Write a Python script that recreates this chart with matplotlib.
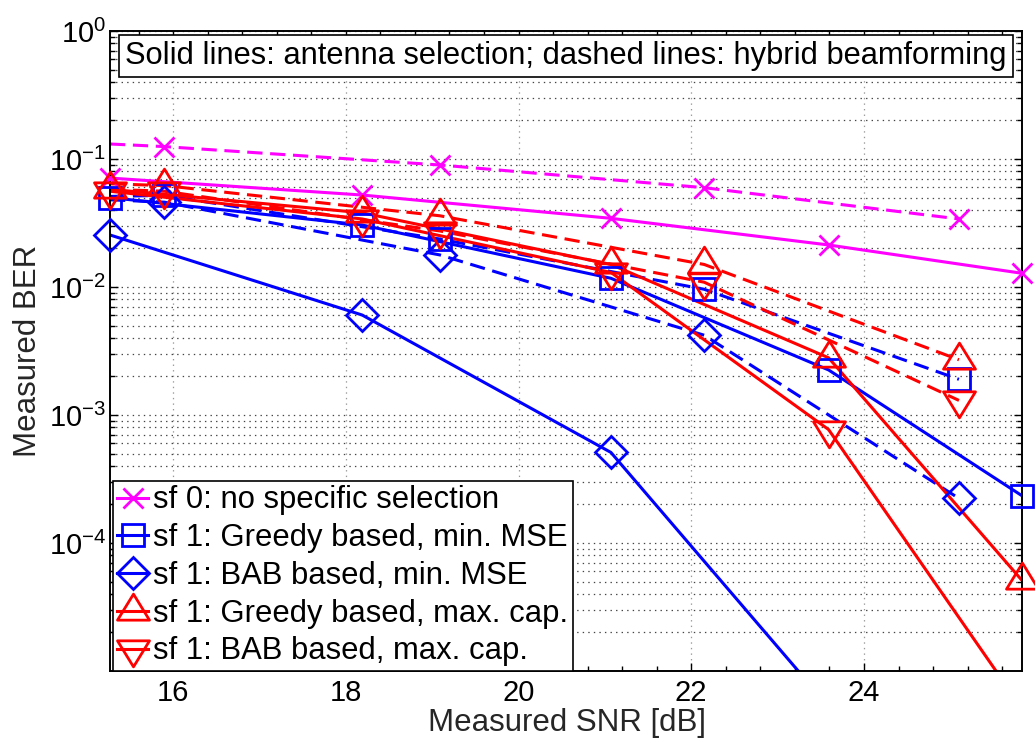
import numpy as np
import matplotlib
matplotlib.use("Agg")
import matplotlib.pyplot as plt
from matplotlib.path import Path
from matplotlib.lines import Line2D
from matplotlib.ticker import FixedLocator, LogLocator, FuncFormatter, NullFormatter, MultipleLocator

plt.rcParams['font.family'] = ['Liberation Sans', 'DejaVu Sans']
plt.rcParams['mathtext.fontset'] = 'custom'
plt.rcParams['mathtext.rm'] = 'Liberation Sans'
plt.rcParams['mathtext.it'] = 'Liberation Sans:italic'
plt.rcParams['mathtext.bf'] = 'Liberation Sans:bold'
plt.rcParams['lines.scale_dashes'] = False

# ---- data -------------------------------------------------------------
# antenna selection (solid lines): measured SNR [dB]
snr_as = np.array([15.27, 18.19, 21.07, 23.59, 25.83])
# hybrid beamforming (dashed lines): first entry is where the curve enters at the left edge
snr_hb = np.array([15.27, 15.90, 19.09, 22.15, 25.10])

ber_sf0_as = [0.071, 0.0523, 0.0344, 0.0213, 0.0128]
ber_gmse_as = [0.050, 0.0305, 0.0117, 0.00225, 2.34e-4]
ber_bmse_as = [0.0255, 0.00604, 5.1e-4, 5.3e-6, np.nan]
ber_gcap_as = [0.058, 0.038, 0.0150, 0.0028, 5.1e-5]
ber_bcap_as = [0.056, 0.034, 0.0130, 7.7e-4, 5.1e-6]

ber_sf0_hb = [0.131, 0.125, 0.0898, 0.0597, 0.034]
ber_gmse_hb = [0.051, 0.052, 0.0237, 0.0096, 0.0019]
ber_bmse_hb = [0.048, 0.046, 0.0178, 0.0042, 2.23e-4]
ber_gcap_hb = [0.064, 0.062, 0.036, 0.0150, 0.0027]
ber_bcap_hb = [0.058, 0.056, 0.0274, 0.0109, 0.0013]

labels = ["sf 0: no specific selection",
          "sf 1: Greedy based, min. MSE",
          "sf 1: BAB based, min. MSE",
          "sf 1: Greedy based, max. cap.",
          "sf 1: BAB based, max. cap."]

MAG, BLU, RED = '#FF00FF', '#0000FF', '#FF0000'

# triangles centred on their centroid, a little wider than tall
tri_up = Path([(0, 0.667), (-0.615, -0.333), (0.615, -0.333), (0, 0.667)],
              [Path.MOVETO, Path.LINETO, Path.LINETO, Path.CLOSEPOLY])
tri_dn = Path([(0, -0.667), (-0.615, 0.333), (0.615, 0.333), (0, -0.667)],
              [Path.MOVETO, Path.LINETO, Path.LINETO, Path.CLOSEPOLY])

styles = [
    dict(color=MAG, marker='x', ms=14.5),
    dict(color=BLU, marker='s', ms=16),
    dict(color=BLU, marker='D', ms=16.5),
    dict(color=RED, marker=tri_up, ms=25),
    dict(color=RED, marker=tri_dn, ms=25),
]
series_as = [ber_sf0_as, ber_gmse_as, ber_bmse_as, ber_gcap_as, ber_bcap_as]
series_hb = [ber_sf0_hb, ber_gmse_hb, ber_bmse_hb, ber_gcap_hb, ber_bcap_hb]

YMIN, YMAX = 1e-5, 1.0
LW = 2.2
MEW = 2.0
DASH = (11, 5.5)

fig = plt.figure(figsize=(10.35, 7.49), dpi=100)
ax = fig.add_axes([110/1035, 78/749, 912/1035, 640/749])
ax.set_yscale('log')


def draw(x, y, st, dashed, skip_first):
    y = np.asarray(y, dtype=float)
    kw = dict(color=st['color'], lw=LW)
    if dashed:
        ax.plot(x, y, ls=(0, DASH), **kw)
    else:
        ax.plot(x, y, ls='-', **kw)
    mask = np.isfinite(y) & (y >= YMIN)
    if skip_first:
        mask[0] = False
    ax.plot(x[mask], y[mask], ls='none', marker=st['marker'], ms=st['ms'],
            mfc='none', mec=st['color'], mew=MEW, clip_on=False, zorder=3)


for st, yas, yhb in zip(styles, series_as, series_hb):
    draw(snr_as, yas, st, dashed=False, skip_first=False)
    draw(snr_hb, yhb, st, dashed=True, skip_first=True)

ax.set_xlim(snr_as[0], snr_as[-1])
ax.set_ylim(YMIN, YMAX)

# ticks
ax.xaxis.set_major_locator(MultipleLocator(2))
ax.xaxis.set_minor_locator(MultipleLocator(0.4))
ax.yaxis.set_major_locator(FixedLocator([1e-4, 1e-3, 1e-2, 1e-1, 1e0]))
ax.yaxis.set_minor_locator(LogLocator(base=10, subs=np.arange(2, 10), numticks=20))
ax.yaxis.set_minor_formatter(NullFormatter())


def yfmt(v, pos):
    e = int(round(np.log10(v)))
    return r'$\mathregular{10^{%d}}$' % e


ax.yaxis.set_major_formatter(FuncFormatter(yfmt))
ax.tick_params(which='both', direction='in', top=True, right=True, width=1.0,
               labelsize=21, colors='black')
ax.tick_params(which='major', length=6, pad=6)
ax.tick_params(which='minor', length=3.5)
ax.tick_params(axis='y', which='major', pad=3)

for s in ax.spines.values():
    s.set_linewidth(1.4)

# grid
ax.grid(True, axis='x', which='major', ls=(0, (1, 3)), color='#999999', lw=0.9)
ax.grid(True, axis='y', which='both', ls=(0, (1, 3)), color='#444444', lw=0.9)
ax.set_axisbelow(True)

ax.set_xlabel('Measured SNR [dB]', fontsize=22.5, color='#262626')
ax.set_ylabel('Measured BER', fontsize=22.5, color='#262626')
ax.xaxis.set_label_coords(0.501, -0.058)
ax.yaxis.set_label_coords(-0.0735, 0.5)

ax.text(0.5, 0.9605, 'Solid lines: antenna selection; dashed lines: hybrid beamforming',
        transform=ax.transAxes, ha='center', va='center', fontsize=22.2, color='black',
        bbox=dict(boxstyle='square,pad=0.2', fc='white', ec='black', lw=1.2), zorder=5)

handles = [Line2D([], [], color=st['color'], lw=LW, marker=st['marker'], ms=st['ms'],
                  mfc='none', mec=st['color'], mew=MEW) for st in styles]
leg = ax.legend(handles, labels, loc='lower left', bbox_to_anchor=(0.003, 0.0),
                bbox_transform=ax.transAxes, borderaxespad=0, fontsize=22.3,
                handlelength=1.0, handletextpad=0.16, labelspacing=0.25,
                borderpad=0.15, fancybox=False, framealpha=1, edgecolor='black')
leg.get_frame().set_linewidth(1.2)
leg.set_zorder(6)

fig.savefig('out.png', dpi=100)
